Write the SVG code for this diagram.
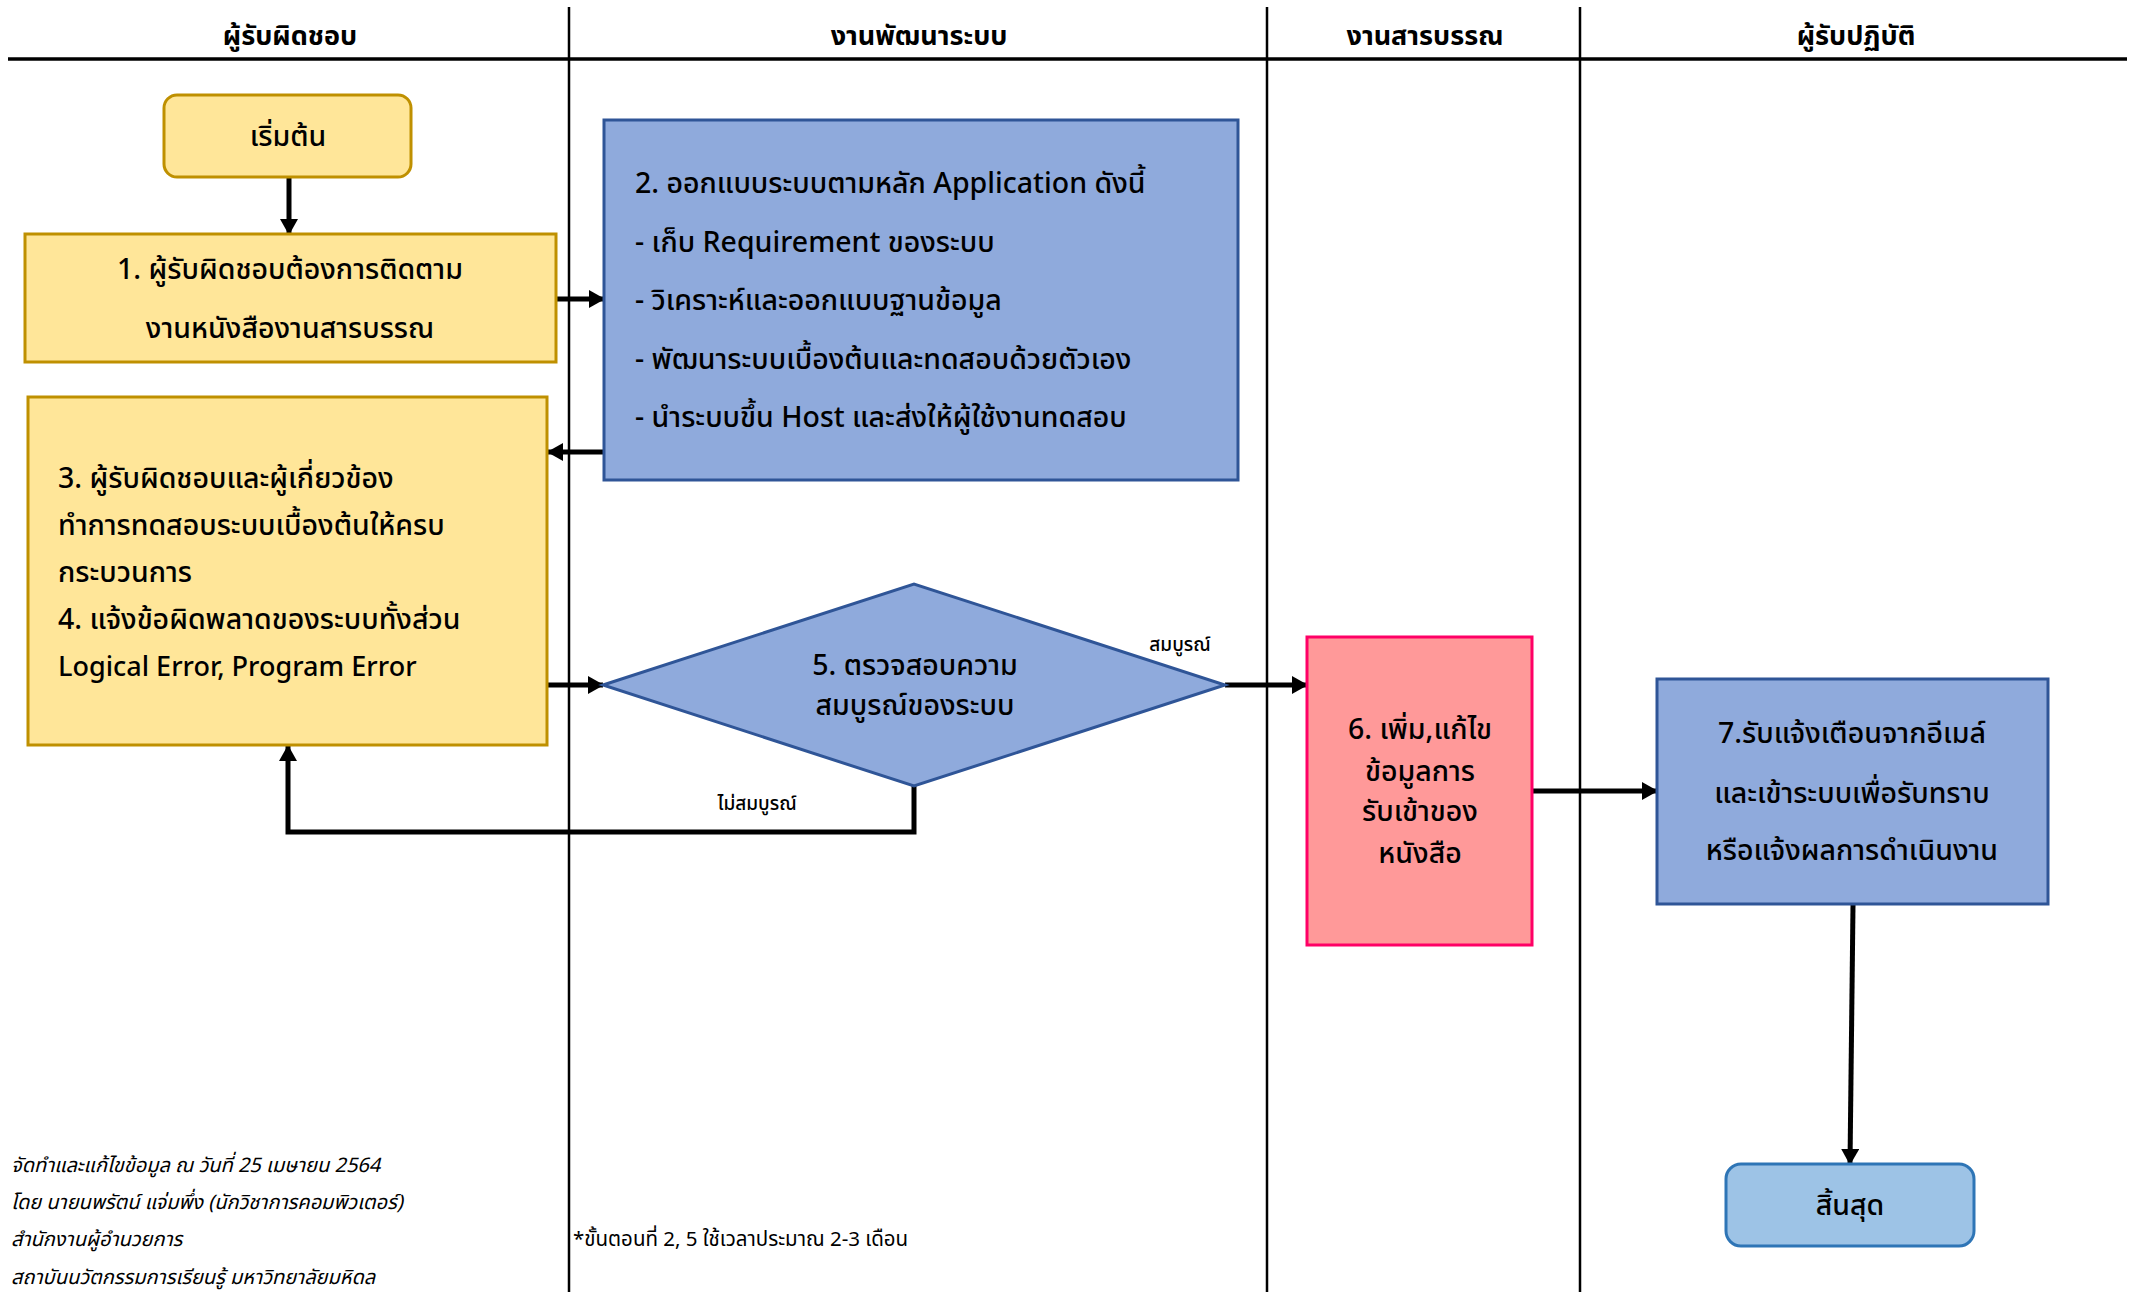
<svg xmlns="http://www.w3.org/2000/svg" width="2134" height="1292" viewBox="0 0 2134 1292">
<style>
text{font-family:"Noto Sans Thai","Noto Sans","DejaVu Sans",sans-serif;fill:#000}
.hd{font-size:27px;font-weight:bold;text-anchor:middle}
.t{font-size:28.5px;font-weight:500}
.c{text-anchor:middle}
.sm{font-size:19px;font-weight:500}
.ft{font-size:20px;font-style:italic}
.fn{font-size:20.5px}
.lane{stroke:#000;stroke-width:2.5;fill:none}
.yel{fill:#FFE699;stroke:#BF9000;stroke-width:3}
.blu{fill:#8FAADC;stroke:#2F5597;stroke-width:3}
.pnk{fill:#FF9999;stroke:#FF0066;stroke-width:3}
.end{fill:#9DC3E6;stroke:#2E75B6;stroke-width:3}
.con{stroke:#000;stroke-width:5;fill:none;marker-end:url(#ah)}
</style>
<defs>
<marker id="ah" markerUnits="userSpaceOnUse" markerWidth="16" markerHeight="18" refX="15" refY="9" orient="auto">
<path d="M0,0 L16,9 L0,18 z" fill="#000"/>
</marker>
</defs>
<rect width="2134" height="1292" fill="#fff"/>
<g id="lanes">
<line class="lane" x1="8" y1="59" x2="2127" y2="59" style="stroke-width:3.5"/>
<line class="lane" x1="569" y1="7" x2="569" y2="1292"/>
<line class="lane" x1="1267" y1="7" x2="1267" y2="1292"/>
<line class="lane" x1="1580" y1="7" x2="1580" y2="1292"/>
<text class="hd" x="290" y="45">ผู้รับผิดชอบ</text>
<text class="hd" x="919" y="45">งานพัฒนาระบบ</text>
<text class="hd" x="1425" y="45">งานสารบรรณ</text>
<text class="hd" x="1856" y="45">ผู้รับปฏิบัติ</text>
</g>
<g id="connectors">
<line class="con" x1="289" y1="177" x2="289" y2="234"/>
<line class="con" x1="556" y1="299" x2="604" y2="299"/>
<line class="con" x1="604" y1="452" x2="548" y2="452"/>
<line class="con" x1="548" y1="685" x2="603" y2="685"/>
<line class="con" x1="1225" y1="685" x2="1307" y2="685"/>
<path class="con" d="M914,786 V832 H288 V746"/>
<line class="con" x1="1532" y1="791" x2="1657" y2="791"/>
<line class="con" x1="1853" y1="905" x2="1850" y2="1164"/>
<text class="sm c" x="1180" y="651">สมบูรณ์</text>
<text class="sm c" x="757" y="810">ไม่สมบูรณ์</text>
</g>
<g id="start">
<rect class="yel" x="164" y="95" width="247" height="82" rx="13"/>
<text class="t c" x="288" y="146">เริ่มต้น</text>
</g>
<g id="step1">
<rect class="yel" x="25" y="234" width="531" height="128"/>
<text class="t c" x="290" y="279">1. ผู้รับผิดชอบต้องการติดตาม</text>
<text class="t c" x="290" y="338">งานหนังสืองานสารบรรณ</text>
</g>
<g id="step2">
<rect class="blu" x="604" y="120" width="634" height="360"/>
<text class="t" x="635" y="193">2. ออกแบบระบบตามหลัก Application ดังนี้</text>
<text class="t" x="635" y="252">- เก็บ Requirement ของระบบ</text>
<text class="t" x="635" y="310">- วิเคราะห์และออกแบบฐานข้อมูล</text>
<text class="t" x="635" y="369">- พัฒนาระบบเบื้องต้นและทดสอบด้วยตัวเอง</text>
<text class="t" x="635" y="427">- นำระบบขึ้น Host และส่งให้ผู้ใช้งานทดสอบ</text>
</g>
<g id="step3">
<rect class="yel" x="28" y="397" width="519" height="348"/>
<text class="t" x="58" y="488">3. ผู้รับผิดชอบและผู้เกี่ยวข้อง</text>
<text class="t" x="58" y="535">ทำการทดสอบระบบเบื้องต้นให้ครบ</text>
<text class="t" x="58" y="582">กระบวนการ</text>
<text class="t" x="58" y="629">4. แจ้งข้อผิดพลาดของระบบทั้งส่วน</text>
<text class="t" x="58" y="676" style="font-size:27px">Logical Error, Program Error</text>
</g>
<g id="step5">
<polygon class="blu" points="603,685 914,584 1225,685 914,786"/>
<text class="t c" x="915" y="675">5. ตรวจสอบความ</text>
<text class="t c" x="915" y="715">สมบูรณ์ของระบบ</text>
</g>
<g id="step6">
<rect class="pnk" x="1307" y="637" width="225" height="308"/>
<text class="t c" x="1420" y="739">6. เพิ่ม,แก้ไข</text>
<text class="t c" x="1420" y="781">ข้อมูลการ</text>
<text class="t c" x="1420" y="821">รับเข้าของ</text>
<text class="t c" x="1420" y="863">หนังสือ</text>
</g>
<g id="step7">
<rect class="blu" x="1657" y="679" width="391" height="225"/>
<text class="t c" x="1852" y="743">7.รับแจ้งเตือนจากอีเมล์</text>
<text class="t c" x="1852" y="803">และเข้าระบบเพื่อรับทราบ</text>
<text class="t c" x="1852" y="860">หรือแจ้งผลการดำเนินงาน</text>
</g>
<g id="end">
<rect class="end" x="1726" y="1164" width="248" height="82" rx="15"/>
<text class="t c" x="1850" y="1215">สิ้นสุด</text>
</g>
<g id="notes">
<text class="ft" x="11" y="1172">จัดทำและแก้ไขข้อมูล ณ วันที่ 25 เมษายน 2564</text>
<text class="ft" x="11" y="1209">โดย นายนพรัตน์ แจ่มพึ่ง (นักวิชาการคอมพิวเตอร์)</text>
<text class="ft" x="11" y="1246">สำนักงานผู้อำนวยการ</text>
<text class="ft" x="11" y="1284">สถาบันนวัตกรรมการเรียนรู้ มหาวิทยาลัยมหิดล</text>
<text class="fn" x="573" y="1246">*ขั้นตอนที่ 2, 5 ใช้เวลาประมาณ 2-3 เดือน</text>
</g>
</svg>
